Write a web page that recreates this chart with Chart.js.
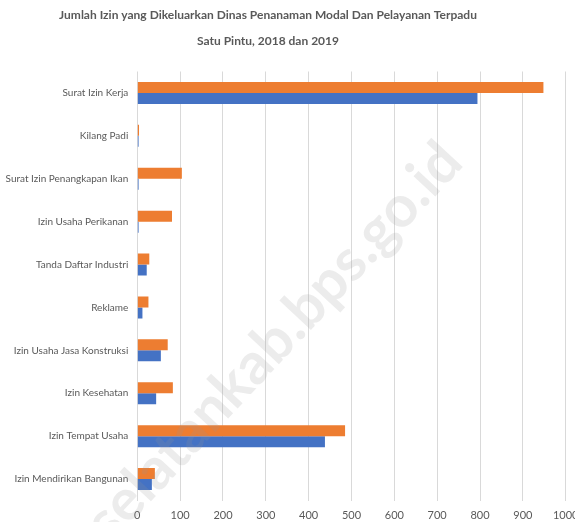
<!DOCTYPE html>
<html>
<head>
<meta charset="utf-8">
<script src="https://cdn.jsdelivr.net/npm/chart.js@4/dist/chart.umd.min.js"></script>
<style>
  html, body { margin: 0; padding: 0; background: #ffffff; }
  #wrap { width: 575px; height: 522px; position: relative; }
</style>
</head>
<body>
<div id="wrap"><canvas id="c" width="575" height="522"></canvas></div>
<script>
const titleLines = [
  "Jumlah Izin yang Dikeluarkan Dinas Penanaman Modal Dan Pelayanan Terpadu",
  "Satu Pintu, 2018 dan 2019"
];
const categories = [
  "Surat Izin Kerja",
  "Kilang Padi",
  "Surat Izin Penangkapan Ikan",
  "Izin Usaha Perikanan",
  "Tanda Daftar Industri",
  "Reklame",
  "Izin Usaha Jasa Konstruksi",
  "Izin Kesehatan",
  "Izin Tempat Usaha",
  "Izin Mendirikan Bangunan"
];
const seriesNames = ["2019", "2018"];
const values2019 = [948, 4, 104, 81, 28, 26, 71, 83, 485, 41];
const values2018 = [794, 3, 3, 3, 22, 12, 55, 44, 438, 34];
const xTicks = [0, 100, 200, 300, 400, 500, 600, 700, 800, 900, 1000];
const watermarkText = "selatankab.bps.go.id";

const FONT = "Lato, 'Open Sans', sans-serif";

const titlePlugin = {
  id: 'customTitle',
  afterDraw(chart) {
    const ctx = chart.ctx;
    ctx.save();
    ctx.fillStyle = '#595959';
    ctx.font = "bold 12px " + FONT;
    ctx.textAlign = 'center';
    ctx.textBaseline = 'middle';
    ctx.fillText(titleLines[0], 268, 15);
    ctx.fillText(titleLines[1], 268, 41);
    ctx.restore();
  }
};

const watermarkPlugin = {
  id: 'watermark',
  afterDraw(chart) {
    const ctx = chart.ctx;
    ctx.save();
    ctx.translate(274, 342);
    ctx.rotate(-47 * Math.PI / 180);
    ctx.font = "bold 58px " + FONT;
    ctx.fillStyle = 'rgba(150,150,150,0.18)';
    ctx.textAlign = 'center';
    ctx.textBaseline = 'middle';
    ctx.fillText(watermarkText, 0, 0);
    ctx.restore();
  }
};

new Chart(document.getElementById('c'), {
  type: 'bar',
  data: {
    labels: categories,
    datasets: [
      { label: seriesNames[0], data: values2019, backgroundColor: '#ED7D31', borderWidth: 0 },
      { label: seriesNames[1], data: values2018, backgroundColor: '#4472C4', borderWidth: 0 }
    ]
  },
  options: {
    indexAxis: 'y',
    responsive: false,
    animation: false,
    devicePixelRatio: 1,
    categoryPercentage: 0.513,
    barPercentage: 1.0,
    layout: { padding: { top: 71.5, left: 0, right: 9.3, bottom: 0 } },
    plugins: {
      legend: { display: false },
      title: { display: false },
      tooltip: { enabled: false }
    },
    scales: {
      x: {
        type: 'linear',
        min: 0,
        max: 1000,
        afterBuildTicks(scale) { scale.ticks = xTicks.map(v => ({ value: v })); },
        afterFit(scale) { scale.height = 21.5; scale.paddingRight = 0; scale.paddingLeft = 0; },
        grid: { color: '#d9d9d9', lineWidth: 1, drawTicks: false },
        border: { display: false },
        ticks: {
          color: '#595959',
          font: { family: FONT, size: 11 },
          padding: 8,
          maxRotation: 0,
          callback: (v) => String(v)
        }
      },
      y: {
        afterFit(scale) { scale.width = 137.3; },
        grid: { display: false, drawTicks: false },
        border: { display: false },
        ticks: { color: '#595959', font: { family: FONT, size: 10 }, padding: 9 }
      }
    }
  },
  plugins: [titlePlugin, watermarkPlugin]
});
</script>
</body>
</html>
